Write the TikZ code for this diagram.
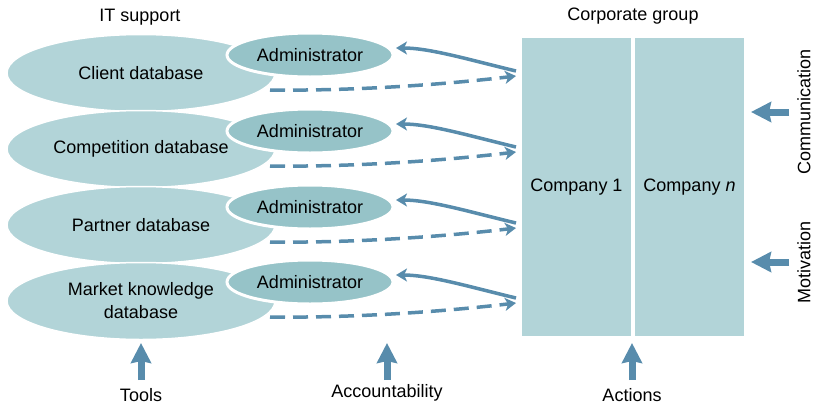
\documentclass[tikz,border=0pt]{standalone}
\usepackage{fontspec}
\setmainfont{Liberation Sans}
\usetikzlibrary{arrows.meta,shapes.geometric}
\definecolor{lightc}{RGB}{178,212,216}
\definecolor{midc}{RGB}{150,195,200}
\definecolor{arrc}{RGB}{88,140,172}
\tikzset{
  dbell/.style={ellipse, fill=lightc, draw=white, line width=1.5pt, minimum width=268pt, minimum height=77pt, inner sep=0pt, align=center, font=\fontsize{18}{23}\selectfont},
  adminell/.style={ellipse, fill=midc, draw=white, line width=3pt, minimum width=166pt, minimum height=44pt, inner sep=0pt, font=\fontsize{18}{22}\selectfont},
  compbox/.style={rectangle, fill=lightc, draw=none, minimum width=109pt, minimum height=298pt, inner sep=0pt, font=\fontsize{18}{22}\selectfont},
  lbl/.style={font=\fontsize{18}{22}\selectfont, inner sep=0pt},
  solidarr/.style={draw=arrc, line width=3.5pt, -{Stealth[length=11pt,width=13pt,inset=3pt]}},
  dasharr/.style={draw=arrc, line width=3.5pt, dash pattern=on 15pt off 8pt, -{Stealth[length=11pt,width=13pt,inset=3pt]}},
  blockarr/.style={draw=arrc, line width=7pt, -{Stealth[length=20pt,width=20pt,inset=2pt]}}
}
\begin{document}
\begin{tikzpicture}[x=1pt,y=-1pt]
\useasboundingbox (0,0) rectangle (813,407);
% titles
\node[lbl] (it) at (140,17) {IT support};
\node[lbl] (cg) at (633,16) {Corporate group};
% database ellipses
\node[dbell] (db1) at (141,73) {Client database};
\node[dbell] (db2) at (141,149) {Competition database};
\node[dbell] (db3) at (141,225) {Partner database};
\node[dbell] (db4) at (141,301) {Market knowledge\\database};
% administrators
\node[adminell] (ad1) at (310,55) {Administrator};
\node[adminell] (ad2) at (310,131) {Administrator};
\node[adminell] (ad3) at (310,207) {Administrator};
\node[adminell] (ad4) at (310,282) {Administrator};
% companies
\node[compbox] (c1) at (576.5,187) {Company 1};
\node[compbox] (cn) at (689.5,187) {Company \textit{n}};
% connectors
\foreach \i/\y in {1/55,2/131,3/207,4/282}{
  \coordinate (s\i) at (516,\y+16);
  \coordinate (t\i) at (396,\y-7);
  \coordinate (d\i) at (270,\y+35);
  \coordinate (e\i) at (516,\y+21);
  \draw[solidarr] (s\i) .. controls (470,\y+5) and (430,\y-7) .. (t\i);
  \draw[dasharr] (d\i) .. controls (350,\y+36) and (440,\y+30) .. (e\i);
}
% bottom arrows and labels
\node[lbl] (tools) at (141,395) {Tools};
\node[lbl] (acc) at (387,393) {Accountability};
\node[lbl] (act) at (632,395) {Actions};
\coordinate (ta) at (141,343);
\coordinate (aa) at (387,343);
\coordinate (ca) at (632,343);
\draw[blockarr] (141,380) -- (ta);
\draw[blockarr] (387,380) -- (aa);
\draw[blockarr] (632,380) -- (ca);
% right arrows and labels
\node[lbl, rotate=90] (comm) at (804,112) {Communication};
\node[lbl, rotate=90] (mot) at (804,262) {Motivation};
\coordinate (cma) at (751,112);
\coordinate (moa) at (751,262);
\draw[blockarr] (789,112) -- (cma);
\draw[blockarr] (789,262) -- (moa);
\end{tikzpicture}
\end{document}
